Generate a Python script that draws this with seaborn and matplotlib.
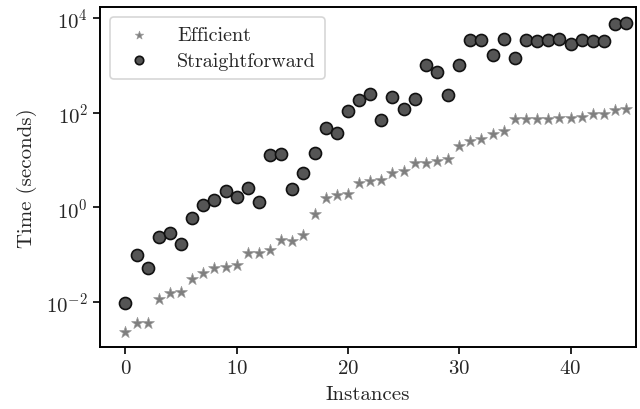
import numpy as np
import pandas as pd
import matplotlib
matplotlib.use("Agg")
import matplotlib.pyplot as plt
import seaborn as sns

# ------------------------------
# Data
# ------------------------------
efficient = [
    0.0023, 0.0035, 0.0035, 0.0113, 0.015, 0.0158, 0.030, 0.040, 0.053, 0.055,
    0.059, 0.107, 0.11, 0.125, 0.20, 0.19, 0.26, 0.71, 1.6, 1.8,
    1.9, 3.3, 3.5, 3.8, 5.4, 5.9, 8.8, 8.8, 9.5, 10.7,
    20, 25, 28, 35, 41, 75, 75, 75, 75, 76,
    77, 81, 95, 95, 116, 117,
]
straightforward = [
    0.0092, 0.097, 0.053, 0.24, 0.28, 0.17, 0.59, 1.1, 1.4, 2.2,
    1.65, 2.6, 1.3, 12.8, 13.4, 2.4, 5.2, 14.3, 47, 38,
    109, 185, 252, 69, 218, 118, 190, 1000, 740, 234,
    1000, 3400, 3400, 1630, 3550, 1450, 3400, 3300, 3400, 3550,
    2800, 3400, 3300, 3300, 7400, 7800,
]
instances = np.arange(len(efficient))

df = pd.DataFrame({"instance": instances,
                   "efficient": efficient,
                   "straightforward": straightforward})

# ------------------------------
# Style
# ------------------------------
sns.set_theme(style="ticks")
plt.rcParams["font.family"] = "serif"
plt.rcParams["font.serif"] = ["cmr10", "DejaVu Serif"]
plt.rcParams["mathtext.fontset"] = "cm"
plt.rcParams["axes.formatter.use_mathtext"] = True
plt.rcParams["axes.unicode_minus"] = False

fig = plt.figure(figsize=(6.4, 4.1), dpi=100)
ax = fig.add_axes([0.156, 0.151, 0.838, 0.829])

sns.scatterplot(data=df, x="instance", y="efficient", ax=ax, marker="*",
                s=80, color="#7f7f7f", edgecolor="#9a9a9a", linewidth=0.5,
                label="Efficient", zorder=3)
sns.scatterplot(data=df, x="instance", y="straightforward", ax=ax, marker="o",
                s=75, color="#555555", edgecolor="#111111", linewidth=1.2,
                label="Straightforward", zorder=3)

ax.set_yscale("log")
ax.set_xlim(-2.3, 45.9)
ax.set_ylim(1.1e-3, 1.7e4)
ax.set_yticks([1e-2, 1e0, 1e2, 1e4])
ax.yaxis.set_minor_locator(matplotlib.ticker.NullLocator())
ax.set_xticks([0, 10, 20, 30, 40])

ax.set_xlabel("Instances", fontsize=15, labelpad=6)
ax.set_ylabel("Time (seconds)", fontsize=15, labelpad=7)
ax.tick_params(axis="both", labelsize=15, length=5, width=1.2, color="black")
for sp in ax.spines.values():
    sp.set_linewidth(1.4)
    sp.set_color("black")

leg = ax.legend(loc="upper left", fontsize=14.5, frameon=True, fancybox=True,
                borderpad=0.45, handletextpad=0.9, markerscale=0.7,
                labelspacing=0.35)
leg.get_frame().set_edgecolor("#cccccc")
leg.get_frame().set_linewidth(1.2)

fig.savefig("out.png", dpi=100)
